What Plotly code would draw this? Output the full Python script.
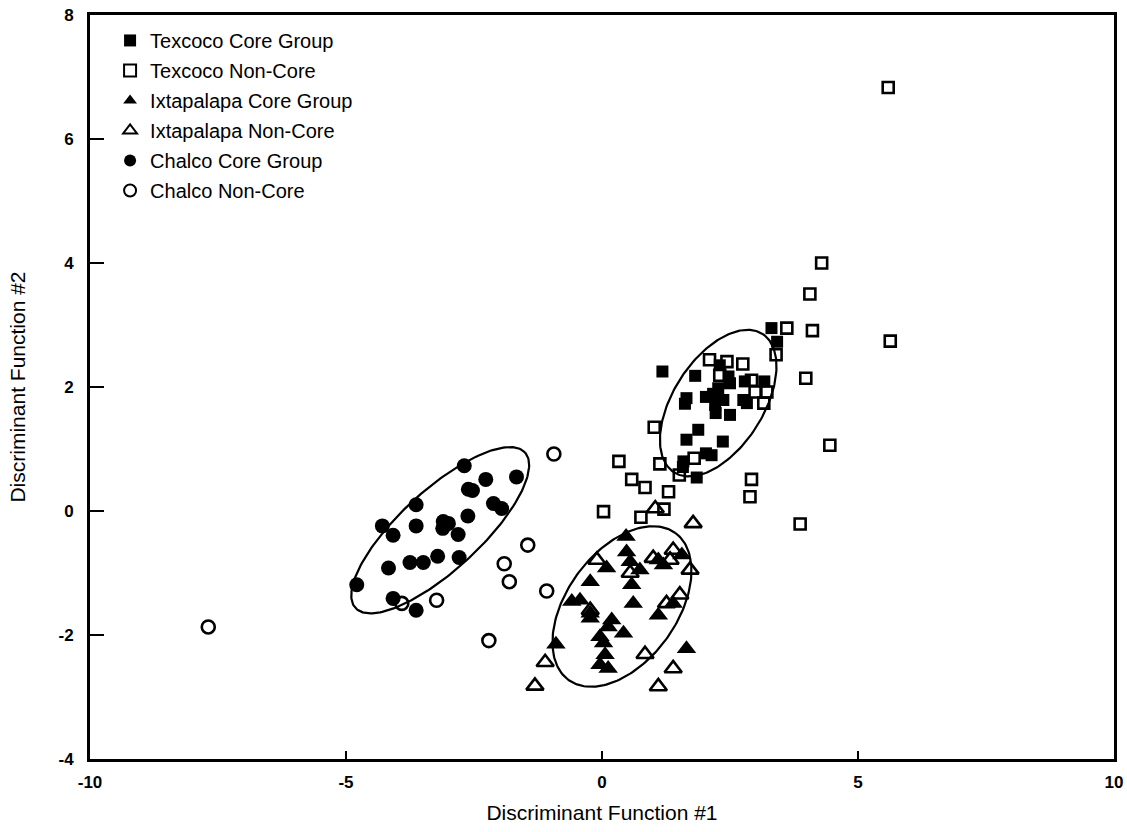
import numpy as np
import plotly.graph_objects as go

# ---------------- data ----------------
tex_core_x = [3.31, 3.42, 1.18, 1.82, 2.30, 2.47, 2.79, 3.17, 1.65, 1.62, 2.03, 2.17, 2.27, 2.37,
              2.21, 2.76, 2.83, 2.50, 2.22, 2.50, 1.88, 1.65, 2.36, 2.14, 2.03, 1.59, 1.58, 1.85]
tex_core_y = [2.95, 2.73, 2.25, 2.18, 2.35, 2.17, 2.09, 2.09, 1.82, 1.73, 1.84, 1.89, 1.98, 1.79,
              1.71, 1.79, 1.74, 2.06, 1.58, 1.55, 1.31, 1.15, 1.12, 0.90, 0.93, 0.80, 0.71, 0.54]

tex_non_x = [5.59, 4.29, 4.06, 4.11, 3.61, 3.40, 5.63, 3.98, 4.45, 2.92, 2.89, 3.87, 2.10, 2.75,
             2.44, 2.30, 2.92, 2.99, 3.22, 3.16, 1.02, 1.80, 1.13, 1.51, 0.33, 0.58, 0.84, 1.30,
             0.03, 0.76, 1.21]
tex_non_y = [6.83, 4.00, 3.50, 2.91, 2.95, 2.52, 2.74, 2.14, 1.06, 0.51, 0.23, -0.21, 2.44, 2.37,
             2.41, 2.19, 2.11, 1.92, 1.92, 1.74, 1.35, 0.85, 0.76, 0.58, 0.80, 0.51, 0.38, 0.31,
             -0.01, -0.10, 0.03]

ixt_core_x = [0.47, 0.48, 0.55, 0.09, 0.74, 1.10, 1.20, 1.56, -0.23, 0.58, -0.59, -0.43, 0.61, 1.39,
              -0.23, -0.23, 1.10, 0.19, 0.12, 0.42, -0.04, 0.03, -0.90, 1.65, 0.06, -0.04, 0.12]
ixt_core_y = [-0.41, -0.66, -0.82, -0.92, -0.95, -0.79, -0.87, -0.71, -1.14, -1.19, -1.46, -1.44, -1.49,
              -1.49, -1.65, -1.73, -1.68, -1.76, -1.87, -1.97, -2.03, -2.13, -2.15, -2.22, -2.32,
              -2.48, -2.54]

ixt_non_x = [1.04, 1.78, -0.10, 1.39, 1.00, 1.33, 1.72, 1.52, 1.26, -0.23, 0.84, 1.39, 1.10, -1.11,
             -1.31, 0.55]
ixt_non_y = [0.04, -0.20, -0.79, -0.63, -0.76, -0.79, -0.95, -1.35, -1.49, -1.60, -2.31, -2.54, -2.83,
             -2.44, -2.82, -1.00]

cha_core_x = [-2.69, -2.27, -1.67, -2.61, -2.53, -2.12, -1.96, -3.63, -3.63, -2.62, -3.10, -3.00,
              -3.11, -2.81, -4.29, -4.08, -3.75, -3.49, -3.21, -2.79, -4.17, -4.79, -4.08, -3.63]
cha_core_y = [0.73, 0.51, 0.55, 0.35, 0.33, 0.12, 0.04, 0.10, -0.24, -0.08, -0.17, -0.20,
              -0.28, -0.38, -0.24, -0.39, -0.83, -0.83, -0.73, -0.75, -0.92, -1.19, -1.41, -1.60]

cha_non_x = [-0.94, -1.45, -1.91, -1.81, -1.08, -3.23, -3.91, -2.21, -7.69]
cha_non_y = [0.92, -0.55, -0.85, -1.14, -1.29, -1.44, -1.49, -2.09, -1.87]

# ellipses: centre, major half-axis vector, minor half-axis vector (data units)
ell_centers = [(-3.16, -0.31), (0.39, -1.54), (2.27, 1.74)]
ell_major = [(1.655, 1.254), (1.043, 1.185), (0.865, 1.116)]
ell_minor = [(-0.528, 0.475), (-0.869, 0.522), (-0.740, 0.391)]

x_tickvals = [-10, -5, 0, 5, 10]
x_ticktext = ["-10", "-5", "0", "5", "10"]
y_tickvals = [-4, -2, 0, 2, 4, 6, 8]
y_ticktext = ["-4", "-2", "0", "2", "4", "6", "8"]

# ---------------- figure ----------------
fig = go.Figure()

t = np.linspace(0, 2 * np.pi, 200)
for (cx, cy), (ux, uy), (vx, vy) in zip(ell_centers, ell_major, ell_minor):
    fig.add_trace(go.Scatter(
        x=cx + ux * np.cos(t) + vx * np.sin(t),
        y=cy + uy * np.cos(t) + vy * np.sin(t),
        mode="lines", line=dict(color="black", width=2.2),
        showlegend=False, hoverinfo="skip"))

series = [
    ("Texcoco Core Group", tex_core_x, tex_core_y, "square", 12),
    ("Texcoco Non-Core", tex_non_x, tex_non_y, "square-open", 11),
    ("Ixtapalapa Core Group", ixt_core_x, ixt_core_y, "triangle-up", 17),
    ("Ixtapalapa Non-Core", ixt_non_x, ixt_non_y, "triangle-up-open", 15),
    ("Chalco Core Group", cha_core_x, cha_core_y, "circle", 15),
    ("Chalco Non-Core", cha_non_x, cha_non_y, "circle-open", 13),
]
for i, (name, xs, ys, sym, sz) in enumerate(series):
    fig.add_trace(go.Scatter(
        x=xs, y=ys, mode="markers", name=name, legendgroup=str(i),
        marker=dict(symbol=sym, size=sz, color="black",
                    line=dict(color="black", width=2.6 if "open" in sym else 0))))

axis_common = dict(showline=True, linecolor="black", linewidth=3, mirror=True,
                   ticks="inside", tickcolor="black", tickwidth=1.5,
                   showgrid=False, zeroline=False, automargin=False,
                   tickfont=dict(family="Liberation Sans", size=17, color="black", weight="bold"))

fig.update_layout(
    width=1127, height=832,
    margin=dict(l=90, r=13, t=15, b=73),
    paper_bgcolor="white", plot_bgcolor="white",
    font=dict(family="Liberation Sans", color="black"),
    xaxis=dict(range=[-10, 10], tickvals=x_tickvals, ticktext=x_ticktext, ticklen=8,
               ticklabelstandoff=6,
               title=dict(text="Discriminant Function #1", font=dict(size=21), standoff=14),
               **axis_common),
    yaxis=dict(range=[-4, 8], tickvals=y_tickvals, ticktext=y_ticktext, ticklen=14,
               ticklabelstandoff=10,
               title=dict(text="Discriminant Function #2", font=dict(size=21), standoff=28),
               **axis_common),
    legend=dict(x=0.0196, y=0.992, xanchor="left", yanchor="top",
                font=dict(size=20, color="black"), bgcolor="rgba(0,0,0,0)",
                tracegroupgap=1, itemsizing="constant"),
)

fig.write_html("out.html", config={"displayModeBar": False},
               post_script="document.body.style.margin='0';document.body.style.overflow='hidden';")
